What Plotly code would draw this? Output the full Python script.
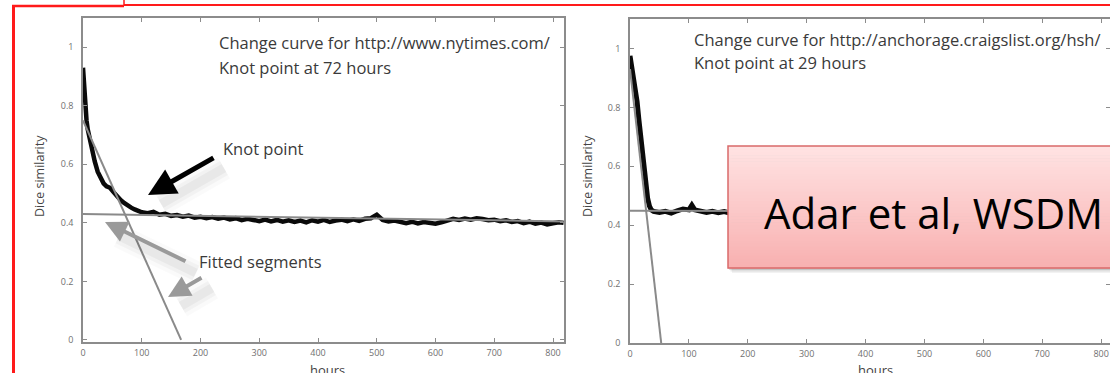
import plotly.graph_objects as go

W, H = 1110, 373

# ---------------- data ----------------
ny_hours = [0, 2, 4, 6, 8, 12, 16, 20, 25, 30, 35, 40, 46, 52, 58, 64, 70, 76, 82, 88, 94, 100,
            110, 120, 130, 140, 150, 160, 170, 180, 190, 200, 210, 220, 230, 240, 250, 260, 270,
            280, 290, 300, 310, 320, 330, 340, 350, 360, 370, 380, 390, 400, 410, 420, 430, 440,
            450, 460, 470, 480, 490, 500, 510, 520, 530, 540, 550, 560, 570, 580, 590, 600, 610,
            620, 630, 640, 650, 660, 670, 680, 690, 700, 710, 720, 730, 740, 750, 760, 770, 780,
            790, 800, 810, 818]
ny_dice = [0.93, 0.86, 0.79, 0.75, 0.72, 0.68, 0.64, 0.61, 0.575, 0.55, 0.535, 0.525, 0.52, 0.505,
           0.49, 0.478, 0.468, 0.458, 0.452, 0.446, 0.44, 0.436,
           0.433, 0.438, 0.428, 0.431, 0.424, 0.427, 0.421, 0.425, 0.418, 0.421, 0.416, 0.42,
           0.414, 0.418, 0.412, 0.416, 0.409, 0.414, 0.41, 0.406, 0.411, 0.405, 0.41, 0.404,
           0.409, 0.403, 0.408, 0.402, 0.409, 0.404, 0.41, 0.403, 0.408, 0.411, 0.406, 0.412,
           0.407, 0.414, 0.416, 0.428, 0.41, 0.405, 0.408, 0.402, 0.399, 0.404, 0.398, 0.403,
           0.401, 0.397, 0.402, 0.409, 0.414, 0.41, 0.415, 0.411, 0.416, 0.413, 0.409, 0.411,
           0.406, 0.409, 0.403, 0.406, 0.399, 0.404, 0.397, 0.401, 0.395, 0.399, 0.402, 0.4]
ny_fit_hours = [0, 167, 0, 818]
ny_fit_dice = [0.75, 0.0, 0.43, 0.405]

cl_hours = [0, 3, 6, 9, 12, 15, 18, 21, 24, 27, 30, 33, 36, 40, 50, 60, 70, 80, 90, 100, 105,
            110, 120, 130, 140, 150, 160, 170, 190, 210, 230, 250, 270, 290, 310, 330, 350, 370,
            390, 410, 430, 450, 470, 490, 510, 530, 550, 570, 590, 610, 630, 650, 670, 690, 710,
            730, 750, 770, 790, 810]
cl_dice = [0.975, 0.94, 0.9, 0.86, 0.82, 0.76, 0.7, 0.635, 0.58, 0.53, 0.49, 0.465, 0.452, 0.447,
           0.443, 0.447, 0.441, 0.449, 0.455, 0.452, 0.468, 0.452, 0.446, 0.443, 0.447, 0.442,
           0.446, 0.441, 0.446, 0.443, 0.448, 0.444, 0.447, 0.442, 0.446, 0.444, 0.448, 0.443,
           0.446, 0.442, 0.447, 0.444, 0.449, 0.445, 0.443, 0.447, 0.442, 0.446, 0.444, 0.448,
           0.443, 0.446, 0.442, 0.447, 0.444, 0.446, 0.441, 0.445, 0.443, 0.446]
cl_fit_hours = [0, 53, 0, 815]
cl_fit_dice = [0.93, 0.0, 0.449, 0.447]

x_ticks = [0, 100, 200, 300, 400, 500, 600, 700, 800]
y_ticks = [0, 0.2, 0.4, 0.6, 0.8, 1]
y_tick_text = ["0", "0.2", "0.4", "0.6", "0.8", "1"]

titles = [["Change curve for http://www.nytimes.com/", "Knot point at 72 hours"],
          ["Change curve for http://anchorage.craigslist.org/hsh/", "Knot point at 29 hours"]]


def px(x):
    return x / W


def py(y):
    return 1 - y / H


CURVE = "#0a0a0a"
FIT = "#8a8a8a"
AX = "#8c8c8c"

fig = go.Figure()
# left chart
fig.add_trace(go.Scatter(x=ny_hours, y=ny_dice, mode="lines",
                         line=dict(color=CURVE, width=4.5), xaxis="x", yaxis="y"))
fig.add_trace(go.Scatter(x=ny_fit_hours[:2], y=ny_fit_dice[:2], mode="lines",
                         line=dict(color=FIT, width=2), xaxis="x", yaxis="y"))
fig.add_trace(go.Scatter(x=ny_fit_hours[2:], y=ny_fit_dice[2:], mode="lines",
                         line=dict(color=FIT, width=2), xaxis="x", yaxis="y"))
# right chart
fig.add_trace(go.Scatter(x=cl_hours, y=cl_dice, mode="lines",
                         line=dict(color=CURVE, width=5), xaxis="x2", yaxis="y2"))
fig.add_trace(go.Scatter(x=cl_fit_hours[:2], y=cl_fit_dice[:2], mode="lines",
                         line=dict(color=FIT, width=2), xaxis="x2", yaxis="y2"))
fig.add_trace(go.Scatter(x=cl_fit_hours[2:], y=cl_fit_dice[2:], mode="lines",
                         line=dict(color=FIT, width=2), xaxis="x2", yaxis="y2"))

axis_common = dict(showgrid=False, zeroline=False, showline=True, linecolor=AX, linewidth=1.5,
                   mirror="ticks", ticks="inside", ticklen=4, tickwidth=1, tickcolor=AX,
                   tickfont=dict(family="Open Sans", size=9, color="#707070"), automargin=False)

fig.update_layout(
    width=W, height=H, margin=dict(l=0, r=0, t=0, b=0),
    paper_bgcolor="white", plot_bgcolor="white", showlegend=False,
    xaxis=dict(domain=[px(83), px(564)], range=[0, 818.7], tickvals=x_ticks, anchor="y",
               ticklabelstandoff=1, **axis_common),
    yaxis=dict(domain=[py(342), py(18)], range=[-0.007, 1.1], tickvals=y_ticks,
               ticktext=y_tick_text, anchor="x", ticklabelstandoff=6, **axis_common),
    xaxis2=dict(domain=[px(630), 1.0], range=[0, 815], tickvals=x_ticks, anchor="y2",
                ticklabelstandoff=1, **axis_common),
    yaxis2=dict(domain=[py(343), py(19)], range=[0, 1.1], tickvals=y_ticks,
                ticktext=y_tick_text, anchor="x2", ticklabelstandoff=6, **axis_common),
)

shapes = []
ann = []
TXT = dict(family="Open Sans", size=16.5, color="#3a3a3a")

# titles inside charts
for (l1, l2), x0, ys in [(titles[0], 217, (43, 67)), (titles[1], 692, (40, 62))]:
    for t, yy in zip((l1, l2), ys):
        ann.append(dict(text=t, x=px(x0), y=py(yy), xref="paper", yref="paper",
                        xanchor="left", yanchor="middle", showarrow=False, font=TXT))

# axis titles
for xc, yc in [(39, 176), (587, 176)]:
    ann.append(dict(text="Dice similarity", x=px(xc), y=py(yc), xref="paper", yref="paper",
                    textangle=-90, showarrow=False, xanchor="center", yanchor="middle",
                    font=dict(family="Open Sans", size=12.5, color="#444444")))
for xa in ["x", "x2"]:
    ann.append(dict(text="hours", x=417, xref=xa, y=py(359), yref="paper", xanchor="center",
                    yanchor="top", showarrow=False,
                    font=dict(family="Open Sans", size=13, color="#444444")))

# labels
ann.append(dict(text="Knot point", x=px(221), y=py(148), xref="paper", yref="paper",
                xanchor="left", yanchor="middle", showarrow=False, font=TXT))
ann.append(dict(text="Fitted segments", x=px(197), y=py(261), xref="paper", yref="paper",
                xanchor="left", yanchor="middle", showarrow=False, font=TXT))


def shadow(x0, y0, x1, y1, dx=9, dy=11):
    for w, o in [(24, 0.02), (16, 0.03), (9, 0.04)]:
        shapes.append(dict(type="line", xref="paper", yref="paper",
                           x0=px(x0 + dx), y0=py(y0 + dy), x1=px(x1 + dx), y1=py(y1 + dy),
                           line=dict(color="rgba(0,0,0,%s)" % o, width=w), layer="above"))


# arrows: (tail, tip)
shadow(215, 157, 152, 193)
shadow(187, 262, 110, 225)
shadow(203, 277, 172, 295)
for (tx, ty), (hx, hy), col, w in [((215, 157), (148, 195), "#000000", 5),
                                   ((187, 262), (105, 222), "#9a9a9a", 4),
                                   ((203, 277), (168, 297), "#9a9a9a", 4)]:
    ann.append(dict(text="", x=px(hx), y=py(hy), xref="paper", yref="paper",
                    ax=tx - hx, ay=ty - hy, showarrow=True, arrowhead=2, arrowsize=1.1,
                    arrowwidth=w, arrowcolor=col, standoff=0))

# pink callout box with shadow and gradient
bx0, by0, bx1, by1 = 728, 146, 1116, 268
for d, o in [(5, 0.05), (3.5, 0.08), (2, 0.12)]:
    shapes.append(dict(type="rect", xref="paper", yref="paper",
                       x0=px(bx0 + d - 1), y0=py(by1 + d), x1=px(bx1 + d), y1=py(by0 + d),
                       line=dict(width=0), fillcolor="rgba(0,0,0,%s)" % o, layer="above"))
n = 40
top = (255, 227, 227)
bot = (248, 176, 176)
for i in range(n):
    f = (i + 0.5) / n
    c = tuple(round(top[k] + (bot[k] - top[k]) * f) for k in range(3))
    ya = by0 + (by1 - by0) * i / n
    yb = by0 + (by1 - by0) * (i + 1) / n + 0.6
    shapes.append(dict(type="rect", xref="paper", yref="paper", x0=px(bx0), x1=px(bx1),
                       y0=py(yb), y1=py(ya), line=dict(width=0),
                       fillcolor="rgb(%d,%d,%d)" % c, layer="above"))
shapes.append(dict(type="rect", xref="paper", yref="paper", x0=px(bx0), x1=px(bx1),
                   y0=py(by1), y1=py(by0), line=dict(color="#d96a6a", width=1.5),
                   fillcolor="rgba(0,0,0,0)", layer="above"))
ann.append(dict(text="Adar et al, WSDM", x=px(762), y=py(212), xref="paper", yref="paper",
                xanchor="left", yanchor="middle", showarrow=False,
                font=dict(family="Open Sans", size=42, color="#000000")))

# red frame
RED = "#ff1a1a"
shapes += [
    dict(type="line", xref="paper", yref="paper", x0=px(13.5), y0=py(5), x1=px(13.5), y1=py(380),
         line=dict(color=RED, width=3), layer="above"),
    dict(type="line", xref="paper", yref="paper", x0=px(12), y0=py(6), x1=px(124), y1=py(6),
         line=dict(color=RED, width=2.5), layer="above"),
    dict(type="line", xref="paper", yref="paper", x0=px(124), y0=py(-2), x1=px(124), y1=py(6),
         line=dict(color=RED, width=1.5), layer="above"),
    dict(type="line", xref="paper", yref="paper", x0=px(124), y0=py(5), x1=px(1112), y1=py(5),
         line=dict(color=RED, width=2), layer="above"),
]

fig.update_layout(shapes=shapes, annotations=ann)
fig.write_html("out.html", config={"displayModeBar": False},
               post_script="document.body.style.margin='0';document.body.style.overflow='hidden';")
